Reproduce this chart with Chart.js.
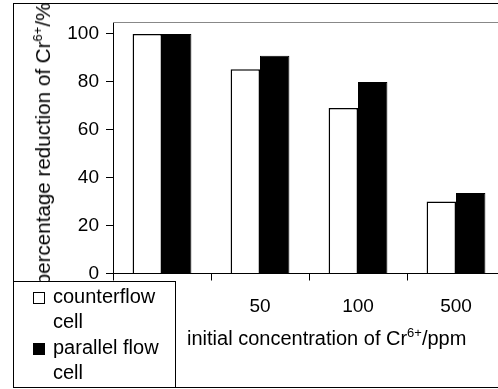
<!DOCTYPE html>
<html>
<head>
<meta charset="utf-8">
<script src="https://cdn.jsdelivr.net/npm/chart.js@4/dist/chart.umd.min.js"></script>
<style>
  body { margin: 0; width: 498px; height: 389px; overflow: hidden; background: #fff; position: relative; font-family: "Liberation Sans", Arial, sans-serif; }
  #wrap { position: absolute; left: 0; top: 0; width: 520px; height: 389px; }
  #frame { position: absolute; left: 13px; top: 3px; width: 600px; height: 383px; border: 1px solid #000; pointer-events: none; }
  .ttl { position: absolute; font-size: 20px; line-height: 20px; white-space: nowrap; color: #000; }
  .ttl sup { font-size: 13px; line-height: 0; vertical-align: 8px; }
  #xtitle { left: 187px; top: 328px; }
  #ytitle { left: 43px; top: 144px; font-size: 20.6px; transform: translate(-50%, -50%) rotate(-90deg); }
  #legend { position: absolute; left: 13px; top: 281px; width: 161px; height: 105px; border: 1px solid #000; background: #fff; font-size: 20px; line-height: 25.3px; }
  .row { position: relative; padding-left: 39px; }
  .sw { position: absolute; left: 19px; top: 8px; width: 10px; height: 10px; border: 1px solid #000; }
</style>
</head>
<body>
<div id="wrap"><canvas id="chart"></canvas></div>
<div class="ttl" id="ytitle">percentage reduction of Cr<sup>6+</sup>/%</div>
<div class="ttl" id="xtitle">initial concentration of Cr<sup>6+</sup>/ppm</div>
<div id="frame"></div>
<div id="legend">
  <div class="row" style="margin-top:2px"><span class="sw" style="background:#fff"></span>counterflow<br>cell</div>
  <div class="row"><span class="sw" style="background:#000"></span>parallel flow<br>cell</div>
</div>
<script>
const concentrations = ['10', '50', '100', '500']
const counterflow = [100, 85.3, 69.1, 30.1]
const parallelFlow = [100, 90.9, 80.0, 33.6]
const yTicks = { min: 0, max: 105, step: 20 }

const font = { family: '"Liberation Sans", Arial, sans-serif', size: 19 }

// grey line along the top of the plot area
const topLine = {
  id: 'topLine',
  afterDraw(chart) {
    const { ctx, chartArea } = chart
    ctx.save()
    ctx.strokeStyle = '#888'
    ctx.lineWidth = 1
    ctx.beginPath()
    ctx.moveTo(chartArea.left, chartArea.top + 0.5)
    ctx.lineTo(chart.width, chartArea.top + 0.5)
    ctx.stroke()
    ctx.restore()
  }
}

new Chart(document.getElementById('chart'), {
  type: 'bar',
  data: {
    labels: concentrations,
    datasets: [
      { label: 'counterflow cell', data: counterflow, backgroundColor: '#fff', borderColor: '#000', borderWidth: 1.5 },
      { label: 'parallel flow cell', data: parallelFlow, backgroundColor: '#000', borderColor: '#000', borderWidth: 1 }
    ]
  },
  options: {
    responsive: true,
    maintainAspectRatio: false,
    animation: false,
    layout: { padding: { top: 22, right: 15, left: 0, bottom: 0 } },
    datasets: { bar: { categoryPercentage: 0.6, barPercentage: 1.0 } },
    plugins: { legend: { display: false }, tooltip: { enabled: false } },
    scales: {
      x: {
        afterFit(scale) { scale.height = 115.5 },
        grid: { drawOnChartArea: false, tickLength: 7, color: '#000', offset: true },
        border: { color: '#000', width: 1 },
        ticks: { color: '#000', font: font, padding: 15, maxRotation: 0 }
      },
      y: {
        min: yTicks.min,
        max: yTicks.max,
        afterFit(scale) { scale.width = 113 },
        grid: { drawOnChartArea: false, tickLength: 7, color: '#000' },
        border: { color: '#000', width: 1 },
        ticks: { stepSize: yTicks.step, includeBounds: false, color: '#000', font: font, padding: 7 }
      }
    }
  },
  plugins: [topLine]
})
</script>
</body>
</html>
